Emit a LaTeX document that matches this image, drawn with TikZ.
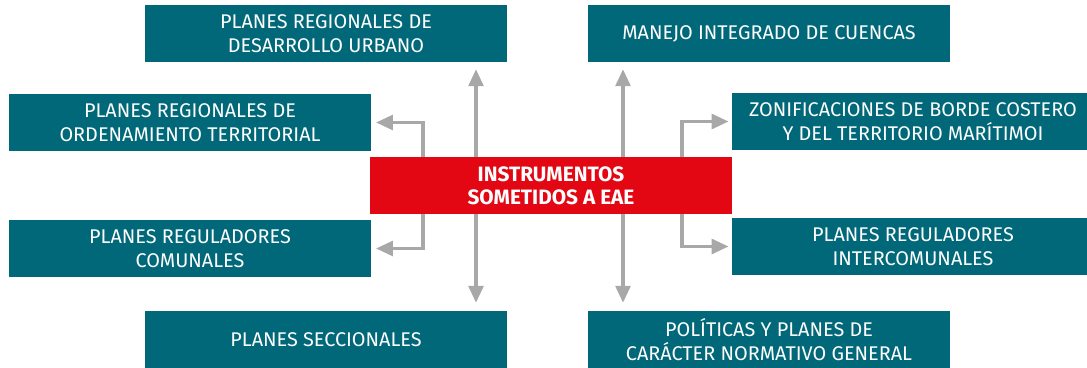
\documentclass[tikz,border=0pt]{standalone}
\usepackage{fontspec}
\setmainfont{Fira Sans}
\usetikzlibrary{positioning, arrows.meta}
\definecolor{eaeteal}{RGB}{0,104,120}
\definecolor{eaered}{RGB}{227,6,19}
\definecolor{eaegray}{RGB}{168,168,168}

\begin{document}
\begin{tikzpicture}[
  font=\fontsize{14.1}{17}\selectfont,
  >={Triangle[length=4.2mm,width=3.7mm]},
  inst/.style={rectangle, fill=eaeteal, text=white, align=center,
               minimum width=9.05cm, minimum height=1.425cm, inner sep=0pt},
  core/.style={inst, fill=eaered, font=\fontsize{14.8}{16.5}\selectfont\bfseries},
  arr/.style={->, line width=2.2pt, draw=eaegray}
]
\useasboundingbox (0,0) rectangle (27.175,-9.175);
\node[inst] (pdu)  at ( 8.150,-0.8375) {PLANES REGIONALES DE\\DESARROLLO URBANO};
\node[inst] (mic)  at (19.225,-0.8375) {MANEJO INTEGRADO DE CUENCAS};
\node[inst] (prot) at ( 4.750,-3.0625) {PLANES REGIONALES DE\\ORDENAMIENTO TERRITORIAL};
\node[inst] (zon)  at (22.825,-3.0375) {ZONIFICACIONES DE BORDE COSTERO\\Y DEL TERRITORIO MARÍTIMOI};
\node[core] (cen)  at (13.775,-4.6375) {INSTRUMENTOS\\SOMETIDOS A EAE};
\node[inst] (prc)  at ( 4.750,-6.2125) {PLANES REGULADORES\\COMUNALES};
\node[inst] (pri)  at (22.825,-6.1625) {PLANES REGULADORES\\INTERCOMUNALES};
\node[inst] (ps)   at ( 8.150,-8.4875) {PLANES SECCIONALES};
\node[inst] (pol)  at (19.225,-8.4875) {POLÍTICAS Y PLANES DE\\CARÁCTER NORMATIVO GENERAL};
\coordinate (vl) at (11.900,0); \coordinate (vr) at (15.575,0);
\coordinate (el) at (10.575,0); \coordinate (er) at (17.050,0);
\draw[arr, shorten >=0.175cm] (cen.north -| vl) -- (pdu.south -| vl);
\draw[arr, shorten >=0.175cm] (cen.north -| vr) -- (mic.south -| vr);
\draw[arr, shorten >=0.2cm] (cen.south -| vl) -- (ps.north -| vl);
\draw[arr, shorten >=0.2cm] (cen.south -| vr) -- (pol.north -| vr);
\draw[arr, shorten >=0.12cm] (cen.north -| el) |- (prot.east);
\draw[arr, shorten >=0.08cm] (cen.north -| er) |- (zon.west);
\draw[arr, shorten >=0.12cm] (cen.south -| el) |- (prc.east);
\draw[arr, shorten >=0.08cm] (cen.south -| er) |- (pri.west);
\end{tikzpicture}
\end{document}
